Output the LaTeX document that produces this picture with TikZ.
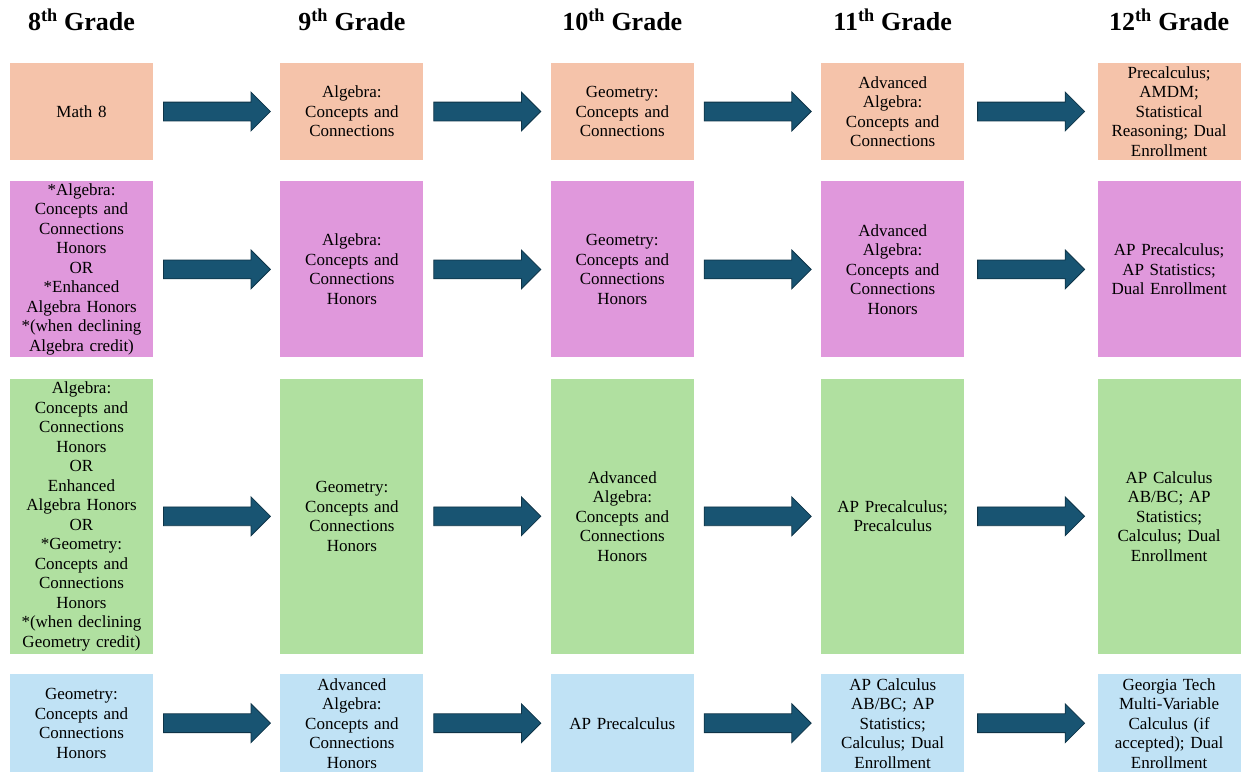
\documentclass[tikz,border=0pt]{standalone}
\usepackage{fontspec}
\setmainfont{Liberation Serif}
\usetikzlibrary{positioning, shapes.arrows}

\definecolor{peach}{RGB}{245,195,170}
\definecolor{orchid}{RGB}{224,152,220}
\definecolor{mint}{RGB}{176,224,160}
\definecolor{sky}{RGB}{192,226,245}
\definecolor{teal}{RGB}{24,84,114}
\definecolor{tealdark}{RGB}{14,52,72}

\begin{document}
\begin{tikzpicture}[x=1pt, y=-1pt]
	\tikzset {node distance=127pt,
		box/.style={minimum width=143pt, text width=139pt, align=center, inner sep=2pt,
			font=\fontsize{17}{19.5}\selectfont},
		head/.style={inner sep=0pt, font=\fontsize{26}{30}\selectfont\bfseries},
		blk/.style={single arrow, draw=tealdark, fill=teal, line width=0.8pt, inner sep=0pt,
			text height=18pt, text depth=0pt, minimum height=107pt, xshift=-4.5pt,
			single arrow head extend=10pt, single arrow head indent=0pt}
	}
	\useasboundingbox (0,0) rectangle (1241,772);

	% standard track
	\node[box, fill=peach, minimum height=97pt] (std8) at (81.5,111.5) {Math 8};
	\node[box, fill=peach, minimum height=97pt, right=of std8] (std9) {Algebra:\\Concepts and\\Connections};
	\node[box, fill=peach, minimum height=97pt, right=of std9] (std10) {Geometry:\\Concepts and\\Connections};
	\node[box, fill=peach, minimum height=97pt, right=of std10] (std11) {Advanced\\Algebra:\\Concepts and\\Connections};
	\node[box, fill=peach, minimum height=97pt, right=133pt of std11] (std12) {Precalculus;\\AMDM;\\Statistical\\Reasoning; Dual\\Enrollment};

	% honors track
	\node[box, fill=orchid, minimum height=176pt, below=21pt of std8] (hon8) {{*}Algebra:\\Concepts and\\Connections\\Honors\\OR\\{*}Enhanced\\Algebra Honors\\{*}(when declining\\Algebra credit)};
	\node[box, fill=orchid, minimum height=176pt, right=of hon8] (hon9) {Algebra:\\Concepts and\\Connections\\Honors};
	\node[box, fill=orchid, minimum height=176pt, right=of hon9] (hon10) {Geometry:\\Concepts and\\Connections\\Honors};
	\node[box, fill=orchid, minimum height=176pt, right=of hon10] (hon11) {Advanced\\Algebra:\\Concepts and\\Connections\\Honors};
	\node[box, fill=orchid, minimum height=176pt, right=133pt of hon11] (hon12) {AP Precalculus;\\AP Statistics;\\Dual Enrollment};

	% accelerated track
	\node[box, fill=mint, minimum height=275pt, below=21pt of hon8] (acc8) {Algebra:\\Concepts and\\Connections\\Honors\\OR\\Enhanced\\Algebra Honors\\OR\\{*}Geometry:\\Concepts and\\Connections\\Honors\\{*}(when declining\\Geometry credit)};
	\node[box, fill=mint, minimum height=275pt, right=of acc8] (acc9) {Geometry:\\Concepts and\\Connections\\Honors};
	\node[box, fill=mint, minimum height=275pt, right=of acc9] (acc10) {Advanced\\Algebra:\\Concepts and\\Connections\\Honors};
	\node[box, fill=mint, minimum height=275pt, right=of acc10] (acc11) {AP Precalculus;\\Precalculus};
	\node[box, fill=mint, minimum height=275pt, right=133pt of acc11] (acc12) {AP Calculus\\AB/BC; AP\\Statistics;\\Calculus; Dual\\Enrollment};

	% advanced track
	\node[box, fill=sky, minimum height=98pt, below=20pt of acc8] (adv8) {Geometry:\\Concepts and\\Connections\\Honors};
	\node[box, fill=sky, minimum height=98pt, right=of adv8] (adv9) {Advanced\\Algebra:\\Concepts and\\Connections\\Honors};
	\node[box, fill=sky, minimum height=98pt, right=of adv9] (adv10) {AP Precalculus};
	\node[box, fill=sky, minimum height=98pt, right=of adv10] (adv11) {AP Calculus\\AB/BC; AP\\Statistics;\\Calculus; Dual\\Enrollment};
	\node[box, fill=sky, minimum height=98pt, right=133pt of adv11] (adv12) {Georgia Tech\\Multi-Variable\\Calculus (if\\accepted); Dual\\Enrollment};

	% grade headings
	\node[head, above=32pt of std8] (h8) {8\textsuperscript{th} Grade};
	\node[head, above=32pt of std9] (h9) {9\textsuperscript{th} Grade};
	\node[head, above=32pt of std10] (h10) {10\textsuperscript{th} Grade};
	\node[head, above=32pt of std11] (h11) {11\textsuperscript{th} Grade};
	\node[head, above=32pt of std12] (h12) {12\textsuperscript{th} Grade};

	% arrows
	\foreach \t in {std, hon, acc, adv} {
		\path (\t8) -- node[blk] {} (\t9);
		\path (\t9) -- node[blk] {} (\t10);
		\path (\t10) -- node[blk] {} (\t11);
		\path (\t11) -- node[blk] {} (\t12);
	}
\end{tikzpicture}
\end{document}
